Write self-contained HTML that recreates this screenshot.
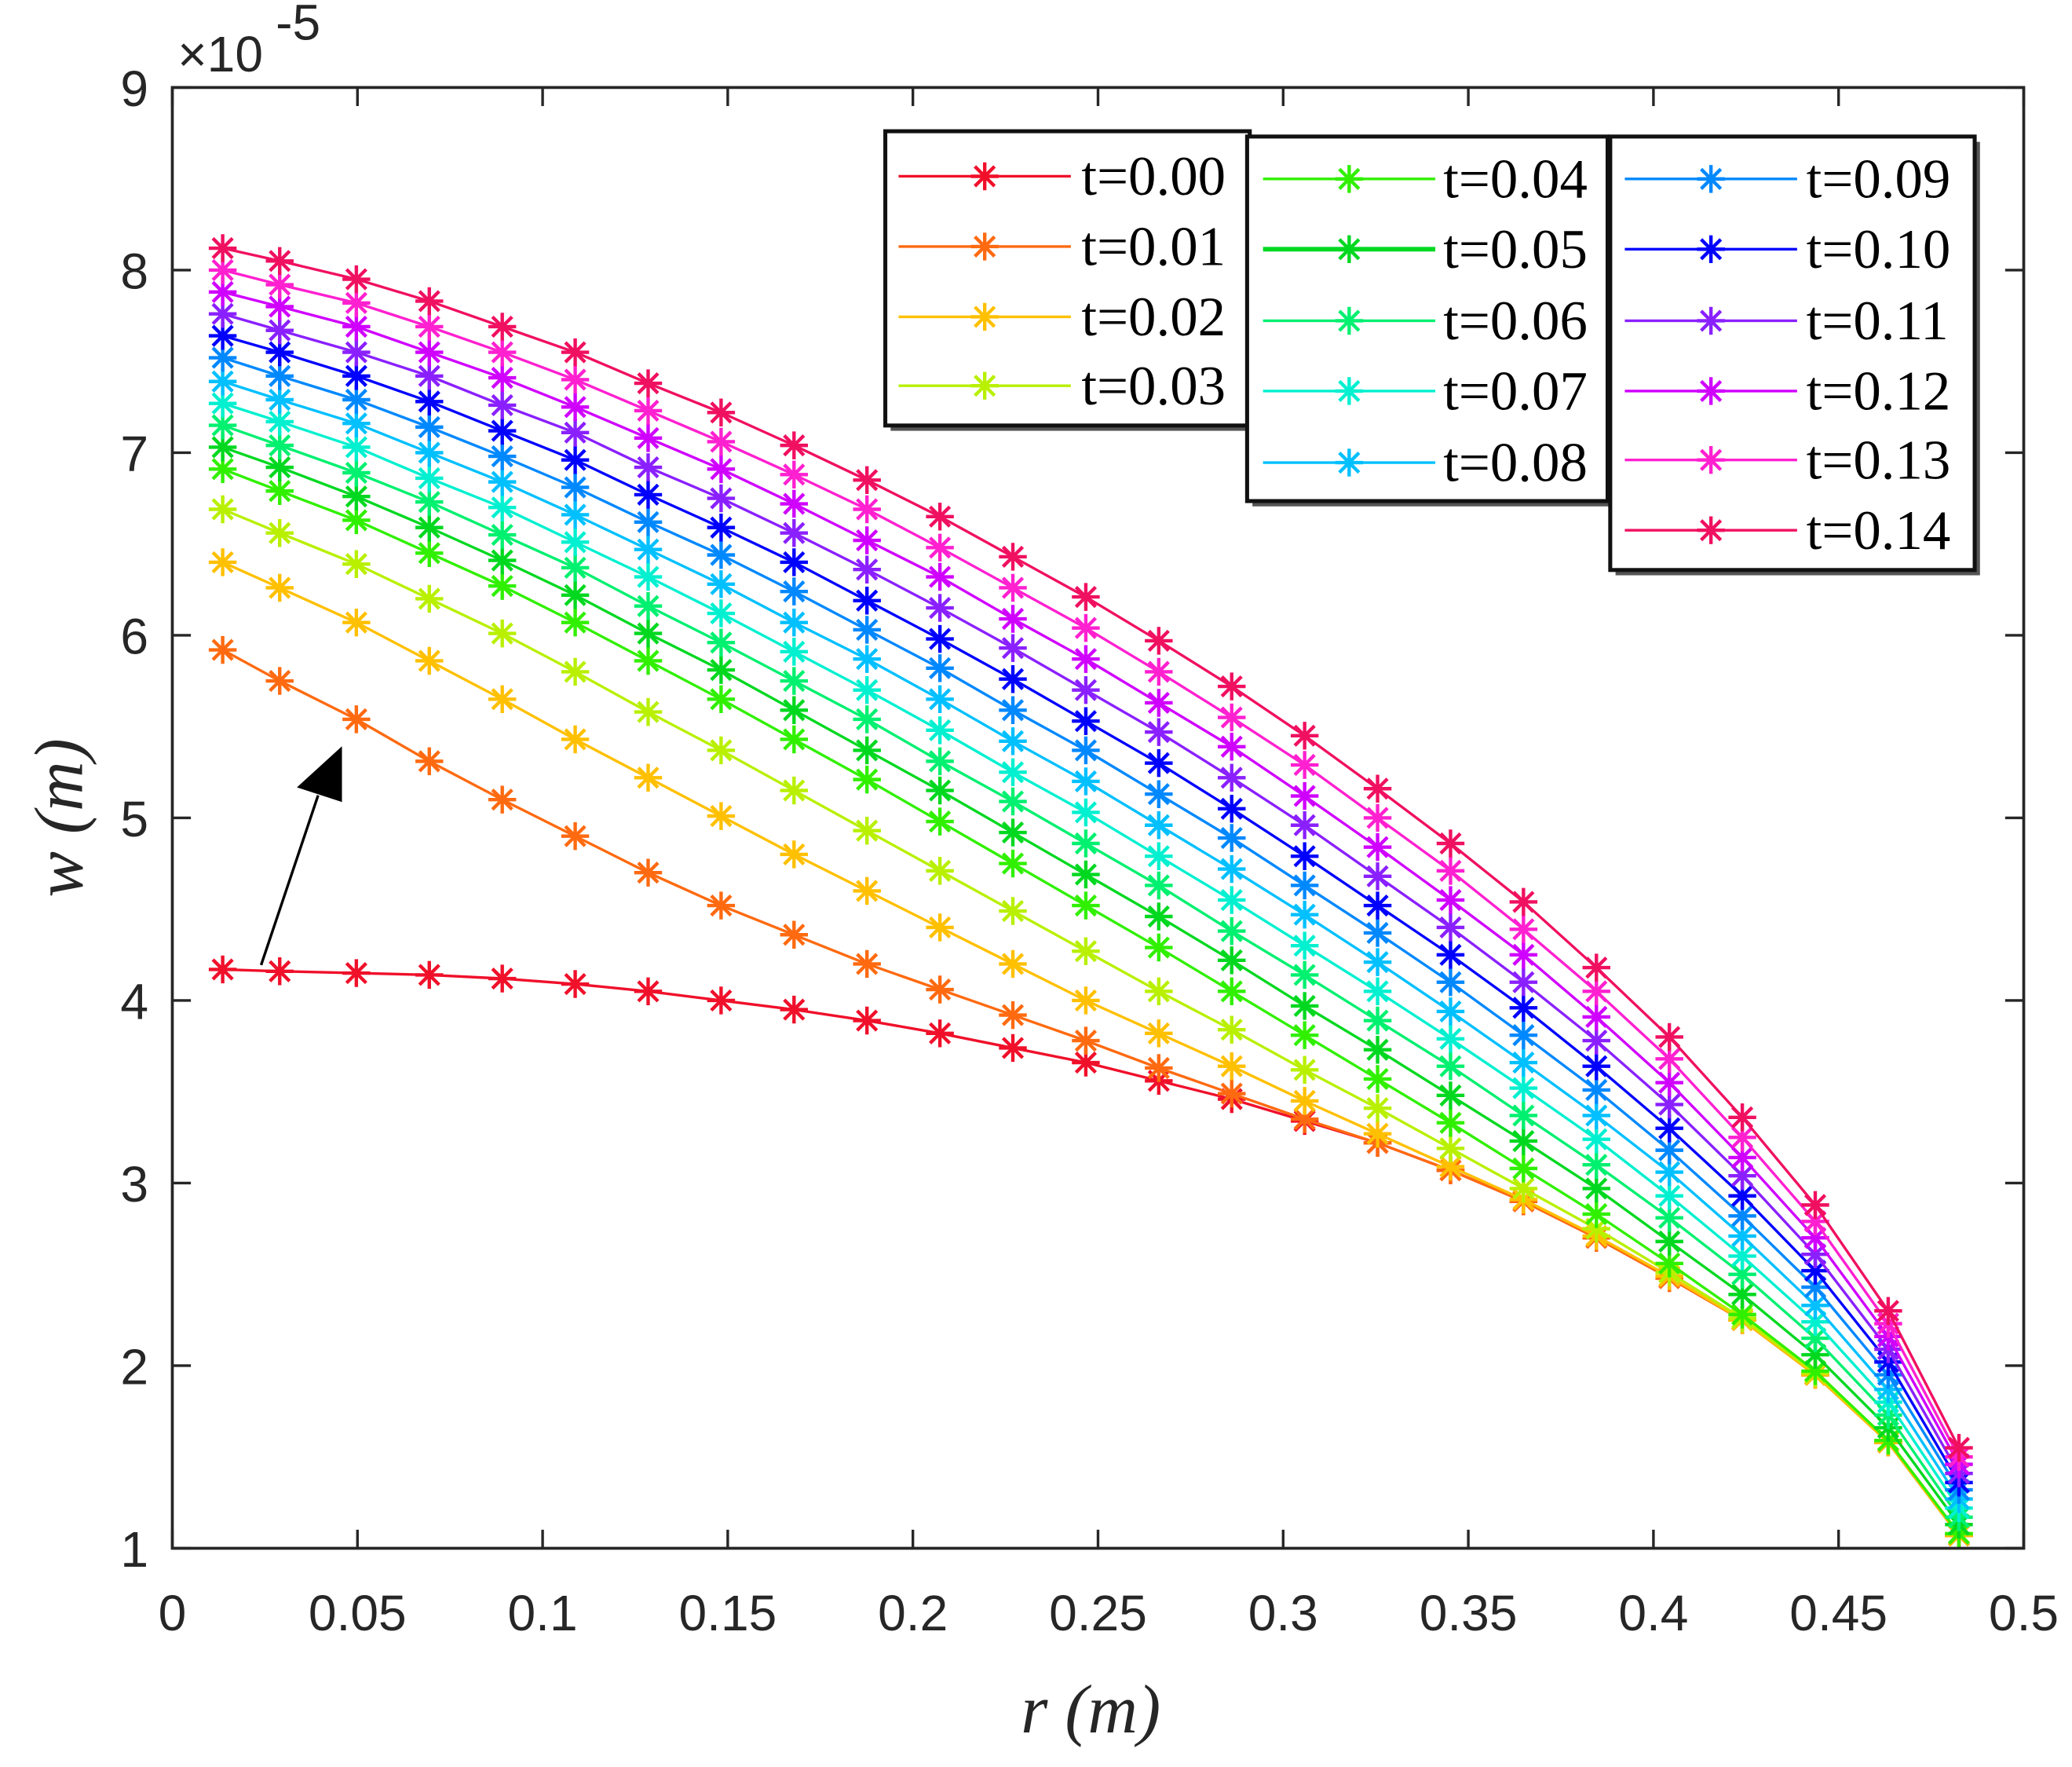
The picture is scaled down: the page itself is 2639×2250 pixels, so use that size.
<!DOCTYPE html>
<html><head><meta charset="utf-8"><style>
html,body{margin:0;padding:0;background:#fff;}
svg{display:block;}
.tick{font-family:"Liberation Sans",sans-serif;font-size:38px;fill:#262626;}
.leg{font-family:"Liberation Serif",serif;font-size:42px;fill:#000;}
.title{font-family:"Liberation Serif",serif;font-style:italic;font-size:52px;fill:#262626;}
</style></head><body>
<svg id="chart" width="2639" height="2250" viewBox="0 0 1563.4 1333" xmlns="http://www.w3.org/2000/svg">
<rect x="0" y="0" width="1563.4" height="1333" fill="#fff"/>
<g id="plot"></g>
<g id="axes"></g>
<g id="legend"></g>
</svg>
<script>
const rVals=[0.0136,0.029,0.0497,0.0694,0.0891,0.1088,0.1285,0.1482,0.1679,0.1876,0.2073,0.227,0.2467,0.2664,0.2861,0.3058,0.3255,0.3452,0.3649,0.3846,0.4043,0.424,0.4437,0.4634,0.4825];
const seriesLabels=["t=0.00","t=0.01","t=0.02","t=0.03","t=0.04","t=0.05","t=0.06","t=0.07","t=0.08","t=0.09","t=0.10","t=0.11","t=0.12","t=0.13","t=0.14"];
const s0=[4.17,4.16,4.15,4.14,4.12,4.09,4.05,4.00,3.95,3.89,3.82,3.74,3.66,3.56,3.46,3.34,3.22,3.07,2.90,2.70,2.48,2.25,1.95,1.58,1.07];
const s1=[5.92,5.75,5.54,5.31,5.10,4.90,4.70,4.52,4.36,4.20,4.06,3.92,3.78,3.63,3.49,3.35,3.22,3.07,2.90,2.70,2.48,2.25,1.95,1.58,1.07];
const s2=[6.40,6.26,6.07,5.86,5.65,5.43,5.22,5.01,4.80,4.60,4.40,4.20,4.00,3.82,3.64,3.45,3.27,3.09,2.91,2.71,2.49,2.25,1.95,1.58,1.07];
const s3=[6.69,6.56,6.39,6.20,6.01,5.80,5.58,5.37,5.15,4.93,4.71,4.49,4.27,4.05,3.84,3.62,3.41,3.19,2.97,2.75,2.51,2.26,1.96,1.59,1.08];
const s4=[6.91,6.79,6.63,6.45,6.27,6.07,5.86,5.65,5.43,5.21,4.98,4.75,4.52,4.29,4.05,3.81,3.57,3.33,3.08,2.83,2.56,2.28,1.97,1.59,1.08];
const s5=[7.03,6.92,6.76,6.59,6.41,6.22,6.01,5.81,5.59,5.37,5.15,4.92,4.69,4.46,4.22,3.97,3.73,3.48,3.23,2.97,2.68,2.39,2.06,1.66,1.13];
const s6=[7.15,7.04,6.89,6.73,6.55,6.37,6.16,5.96,5.75,5.54,5.31,5.09,4.86,4.63,4.38,4.14,3.89,3.64,3.37,3.10,2.81,2.50,2.15,1.73,1.17];
const s7=[7.27,7.17,7.03,6.86,6.70,6.51,6.32,6.12,5.91,5.70,5.48,5.25,5.03,4.79,4.55,4.30,4.05,3.79,3.52,3.24,2.93,2.60,2.24,1.80,1.22];
const s8=[7.39,7.29,7.16,7.00,6.84,6.66,6.47,6.28,6.07,5.87,5.65,5.42,5.20,4.96,4.72,4.47,4.21,3.94,3.66,3.37,3.06,2.71,2.33,1.87,1.27];
const s9=[7.52,7.42,7.29,7.14,6.98,6.81,6.62,6.44,6.24,6.03,5.82,5.59,5.37,5.13,4.89,4.63,4.37,4.10,3.81,3.51,3.18,2.82,2.43,1.95,1.32];
const s10=[7.64,7.55,7.42,7.28,7.12,6.96,6.77,6.59,6.40,6.19,5.98,5.76,5.53,5.30,5.05,4.79,4.52,4.25,3.96,3.64,3.30,2.93,2.52,2.02,1.36];
const s11=[7.76,7.67,7.55,7.42,7.26,7.11,6.92,6.75,6.56,6.36,6.15,5.93,5.70,5.47,5.22,4.96,4.68,4.40,4.10,3.78,3.43,3.04,2.61,2.09,1.41];
const s12=[7.88,7.80,7.69,7.55,7.41,7.25,7.08,6.91,6.72,6.52,6.32,6.09,5.87,5.63,5.39,5.12,4.84,4.55,4.25,3.91,3.55,3.14,2.70,2.16,1.46];
const s13=[8.00,7.92,7.82,7.69,7.55,7.40,7.23,7.06,6.88,6.69,6.48,6.26,6.04,5.80,5.55,5.29,5.00,4.71,4.39,4.05,3.68,3.25,2.79,2.23,1.50];
const s14=[8.12,8.05,7.95,7.83,7.69,7.55,7.38,7.22,7.04,6.85,6.65,6.43,6.21,5.97,5.72,5.45,5.16,4.86,4.54,4.18,3.80,3.36,2.88,2.30,1.55];
const xTicks=[0,0.05,0.1,0.15,0.2,0.25,0.3,0.35,0.4,0.45,0.5];
const xTickLabels=["0","0.05","0.1","0.15","0.2","0.25","0.3","0.35","0.4","0.45","0.5"];
const yTicks=[1,2,3,4,5,6,7,8,9];
const yTickLabels=["1","2","3","4","5","6","7","8","9"];
const allSeries=[s0,s1,s2,s3,s4,s5,s6,s7,s8,s9,s10,s11,s12,s13,s14];
const colors=["#f0102a","#ff6a10","#ffc000","#b8f000","#30f000","#00d820","#00f070","#00f0d0","#00c0ff","#0088ff","#0000ff","#8a20ff","#d000ff","#ff20d0","#f01060"];

const NS="http://www.w3.org/2000/svg";
const L=130,R=1527,T=66,B=1168;
function xs(v){return L+(v-0)/(0.5-0)*(R-L);}
function ys(v){return B-(v-1)/(9-1)*(B-T);}
function mk(tag,attrs,parent){const e=document.createElementNS(NS,tag);for(const k in attrs)e.setAttribute(k,attrs[k]);parent.appendChild(e);return e;}
function star(g,cx,cy,col,r){
  let d="";
  for(let a=0;a<4;a++){const an=a*Math.PI/4;const dx=r*Math.cos(an),dy=r*Math.sin(an);d+=`M${cx-dx},${cy-dy}L${cx+dx},${cy+dy}`;}
  return mk("path",{d:d,stroke:col,"stroke-width":2.6,fill:"none"},g);
}
const plot=document.getElementById("plot");
allSeries.forEach((s,i)=>{
  const g=mk("g",{},plot);
  
  
  const pts=s.map((v,j)=>xs(rVals[j])+","+ys(v)).join(" ");
  const line=mk("polyline",{points:pts,fill:"none",stroke:colors[i],"stroke-width":2},g);
  
  
  s.forEach((v,j)=>{
    const m=star(g,xs(rVals[j]),ys(v),colors[i],10.5);
    
    
  });
});
const arr=mk("g",{},plot);


mk("line",{x1:197,y1:728,x2:240,y2:600,stroke:"#000","stroke-width":2},arr);
mk("polygon",{points:"258,563 224,594 258,605",fill:"#000"},arr);

const ax=document.getElementById("axes");
const frame=mk("rect",{x:L,y:T,width:R-L,height:B-T,fill:"none",stroke:"#262626","stroke-width":2.2},ax);


xTicks.forEach((v,i)=>{
  const x=xs(v);
  mk("line",{x1:x,y1:B,x2:x,y2:B-14,stroke:"#262626","stroke-width":2},ax);
  mk("line",{x1:x,y1:T,x2:x,y2:T+14,stroke:"#262626","stroke-width":2},ax);
  const t=mk("text",{x:x,y:B+62,"text-anchor":"middle",class:"tick"},ax);
  t.textContent=xTickLabels[i];
  
  
});
yTicks.forEach((v,i)=>{
  const y=ys(v);
  mk("line",{x1:L,y1:y,x2:L+14,y2:y,stroke:"#262626","stroke-width":2},ax);
  mk("line",{x1:R,y1:y,x2:R-14,y2:y,stroke:"#262626","stroke-width":2},ax);
  const t=mk("text",{x:L-18,y:y+14,"text-anchor":"end",class:"tick"},ax);
  t.textContent=yTickLabels[i];
  
  
});
const ex=mk("text",{x:134,y:54,class:"tick","font-size":"36"},ax);
ex.textContent="\u00d710";


const ex2=mk("text",{x:208,y:30,class:"tick","font-size":"30"},ax);
ex2.textContent="-5";


const xt=mk("text",{x:823,y:1307,"text-anchor":"middle",class:"title"},ax);
xt.textContent="r (m)";


const yt=mk("text",{x:0,y:0,"text-anchor":"middle",class:"title",transform:"translate(62,617) rotate(-90)"},ax);
yt.textContent="w (m)";



const lg=document.getElementById("legend");
const boxes=[
 {x:668,y:99,w:275,h:222,lx:678,mx:743,tx:816,rows:[133,186,239,291],idx:[0,1,2,3]},
 {x:941,y:103,w:272,h:275,lx:953,mx:1018,tx:1089,rows:[135,188,242,295,349],idx:[4,5,6,7,8]},
 {x:1215,y:103,w:275,h:327,lx:1226,mx:1291,tx:1363,rows:[135,188,242,295,347,400],idx:[9,10,11,12,13,14]}
];
boxes.forEach((b,bi)=>{
  const g=mk("g",{},lg);
  
  
  mk("rect",{x:b.x+4,y:b.y+4,width:b.w,height:b.h,fill:"#555"},g);
  mk("rect",{x:b.x,y:b.y,width:b.w,height:b.h,fill:"#fff",stroke:"#111","stroke-width":3},g);
  b.rows.forEach((ry,k)=>{
    const i=b.idx[k];
    const e=mk("g",{},g);
    
    
    mk("line",{x1:b.lx,y1:ry,x2:b.lx+130,y2:ry,stroke:colors[i],"stroke-width":i===5?3.5:2},e);
    star(e,b.mx,ry,colors[i],10.5);
    const t=mk("text",{x:b.tx,y:ry+14,class:"leg"},e);
    t.textContent=seriesLabels[i];
  });
});
</script>
</body></html>
